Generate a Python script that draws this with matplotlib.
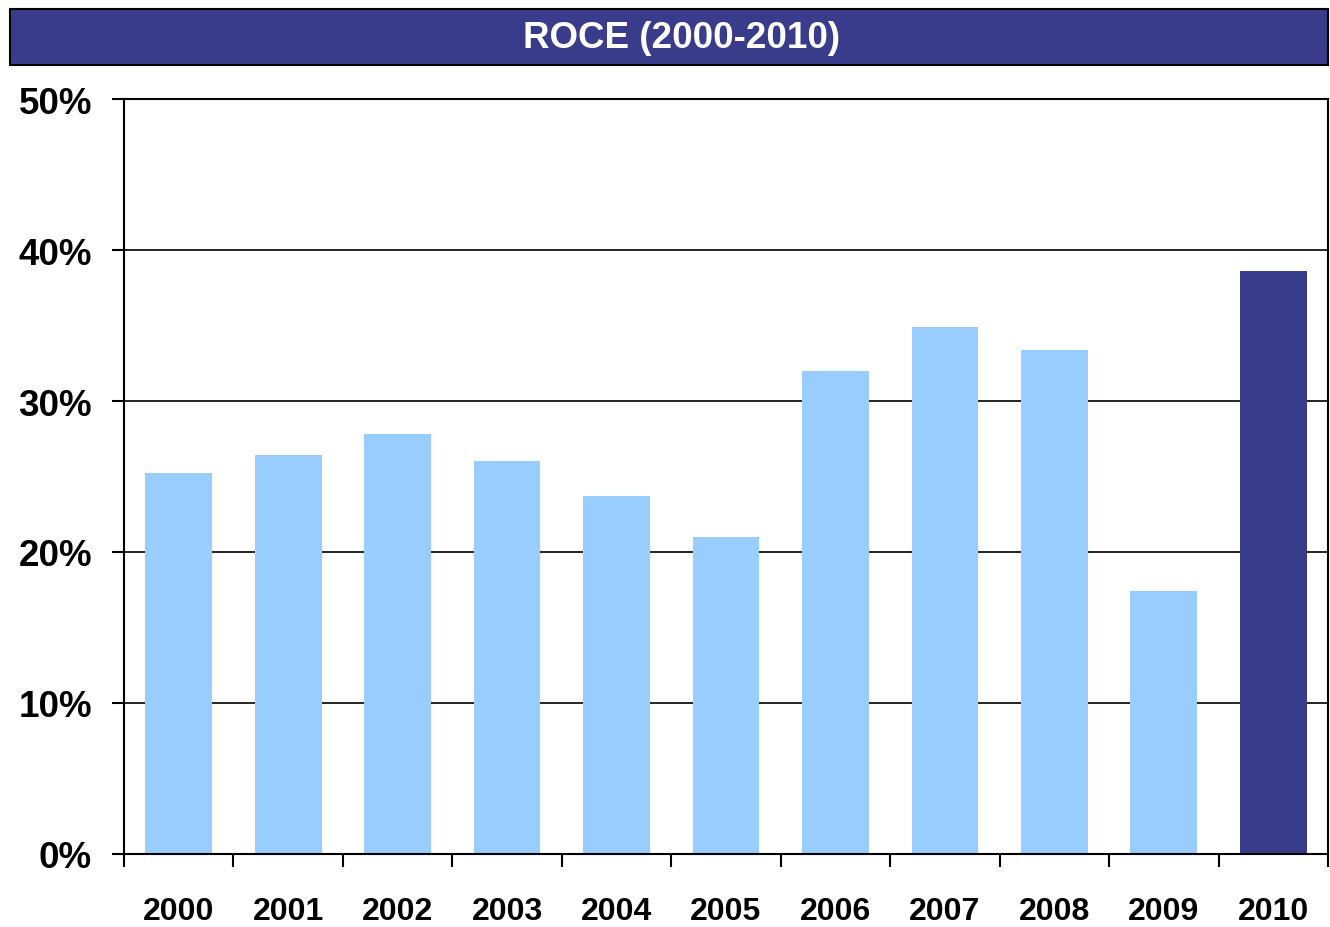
import numpy as np
import matplotlib.pyplot as plt
from matplotlib.patches import Rectangle

plt.rcParams['font.family'] = ['Liberation Sans', 'DejaVu Sans']
plt.rcParams['font.weight'] = 'bold'

# Datos
years = ['2000', '2001', '2002', '2003', '2004', '2005',
         '2006', '2007', '2008', '2009', '2010']
roce = [25.2, 26.4, 27.8, 26.0, 23.7, 21.0, 32.0, 34.9, 33.4, 17.4, 38.6]

light = '#99ccff'
dark = '#393b8b'
colors = [light] * (len(years) - 1) + [dark]

fig = plt.figure(figsize=(13.3, 9.28), dpi=100)
ax = fig.add_axes([0.0932, 0.0787, 0.9053, 0.8135])

x = np.arange(len(years))
ax.bar(x, roce, width=0.61, color=colors, zorder=3)

ax.set_xlim(-0.5, len(years) - 0.5)
ax.set_ylim(0, 50)
ax.set_yticks(np.arange(0, 51, 10))
ax.set_yticklabels([f'{v}%' for v in range(0, 51, 10)])
ax.yaxis.grid(True, color='black', linewidth=1.2, zorder=1)

# ticks del eje x entre categorias
ax.set_xticks(np.arange(-0.5, len(years), 1.0), minor=False)
ax.set_xticklabels([])
ax.set_xticks(x, minor=True)
ax.set_xticklabels(years, minor=True)
ax.tick_params(axis='x', which='major', direction='out', length=9, width=1.5)
ax.tick_params(axis='x', which='minor', length=0, pad=30, labelsize=23)
ax.tick_params(axis='y', direction='out', length=9, width=1.5, pad=14, labelsize=26.5)

for s in ax.spines.values():
    s.set_linewidth(1.5)
    s.set_zorder(4)

# Banner del titulo
banner = Rectangle((10 / 1330, 1 - 66 / 928), 1318 / 1330, 56 / 928,
                   transform=fig.transFigure, facecolor=dark,
                   edgecolor='black', linewidth=1.5)
fig.patches.append(banner)
fig.text(682 / 1330, 1 - 39 / 928, 'ROCE (2000-2010)',
         color='white', fontsize=26.5, fontweight='bold',
         ha='center', va='center')

fig.savefig('out.png', dpi=100)
